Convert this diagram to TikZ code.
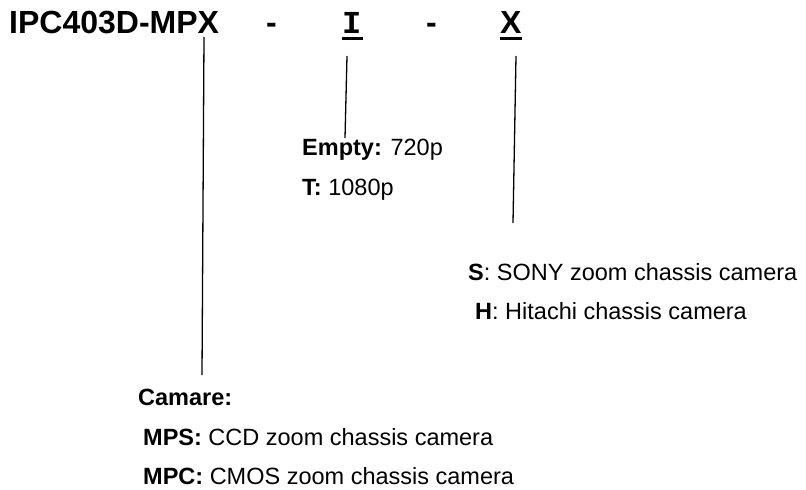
\documentclass[tikz,border=0pt]{standalone}
\usepackage{fontspec}
\setmainfont{Liberation Sans}
\newfontfamily\monof{Liberation Mono}
\begin{document}
\begin{tikzpicture}[x=1pt,y=1pt,
  txt/.style={anchor=base west,inner sep=0pt,font=\fontsize{23.5}{28}\selectfont},
  ttl/.style={anchor=base west,inner sep=0pt,font=\fontsize{32}{36}\selectfont\bfseries},
  lead/.style={line width=1.3pt,black}]
\useasboundingbox (0,0) rectangle (806,-490);
% title
\node[ttl] (model) at (9,-33) {IPC403D-MPX};
\node[ttl] (dash1) at (266,-33) {-};
\node[ttl,font=\fontsize{32}{36}\selectfont\monof\bfseries] (optI) at (342,-33) {I};
\node[ttl] (dash2) at (426,-33) {-};
\node[ttl] (optX) at (500,-33) {X};
\draw[line width=2.4pt] (342,-38.5) -- (363,-38.5);
\draw[line width=2.6pt] (500,-38.5) -- (522,-38.5);
% labels
\node[txt] (empty) at (302,-155) {\textbf{Empty:} 720p};
\node[txt] (tres) at (302,-195) {\textbf{T:} 1080p};
\node[txt] (sony) at (468,-280) {\textbf{S}: SONY zoom chassis camera};
\node[txt] (hita) at (475,-319) {\textbf{H}: Hitachi chassis camera};
\node[txt] (cam) at (138,-405) {\textbf{Camare:}};
\node[txt] (mps) at (143,-445) {\textbf{MPS:} CCD zoom chassis camera};
\node[txt] (mpc) at (143,-484) {\textbf{MPC:} CMOS zoom chassis camera};
% leader lines
\coordinate (a1) at (204,-37);
\coordinate (b1) at (202,-375);
\coordinate (a2) at (347,-56);
\coordinate (b2) at (345,-138);
\coordinate (a3) at (516,-56);
\coordinate (b3) at (513,-223);
\draw[lead] (a1) -- (b1);
\draw[lead] (a2) -- (b2);
\draw[lead] (a3) -- (b3);
\end{tikzpicture}
\end{document}
